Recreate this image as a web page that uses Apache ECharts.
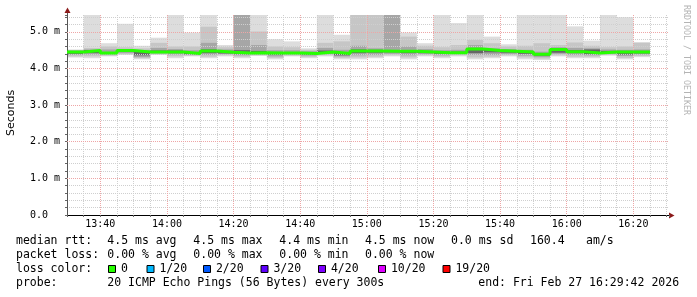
<!DOCTYPE html>
<html><head><meta charset="utf-8">
<script src="https://cdn.jsdelivr.net/npm/echarts@6/dist/echarts.min.js"></script>
<style>html,body{margin:0;padding:0;background:#fff}#c{width:697px;height:297px}</style>
</head><body><div id="c"></div>
<script>
// 5-minute intervals (start times)
const intervalStarts = ['13:30','13:35','13:40','13:45','13:50','13:55','14:00','14:05','14:10','14:15','14:20','14:25','14:30','14:35','14:40','14:45','14:50','14:55','15:00','15:05','15:10','15:15','15:20','15:25','15:30','15:35','15:40','15:45','15:50','15:55','16:00','16:05','16:10','16:15','16:20'];
// sorted ping quantiles (ms), 20 pings per interval
const pingMin = [4.30,4.28,4.33,4.37,4.25,4.37,4.28,4.33,4.28,4.33,4.28,4.34,4.25,4.33,4.28,4.33,4.25,4.25,4.28,4.33,4.25,4.33,4.28,4.33,4.25,4.28,4.33,4.25,4.23,4.33,4.28,4.28,4.35,4.25,4.31];
const ping2   = [4.33,4.33,4.35,4.39,4.28,4.39,4.33,4.35,4.32,4.36,4.32,4.36,4.29,4.35,4.31,4.36,4.29,4.30,4.32,4.36,4.30,4.36,4.32,4.36,4.30,4.32,4.36,4.30,4.27,4.36,4.32,4.32,4.37,4.29,4.34];
const ping4   = [4.37,4.38,4.38,4.42,4.31,4.41,4.38,4.37,4.37,4.39,4.36,4.38,4.33,4.38,4.35,4.39,4.33,4.36,4.37,4.40,4.36,4.39,4.36,4.39,4.37,4.37,4.39,4.35,4.31,4.40,4.37,4.36,4.40,4.34,4.38];
const ping7   = [4.40,4.42,4.40,4.45,4.36,4.43,4.42,4.39,4.42,4.41,4.39,4.40,4.38,4.40,4.38,4.42,4.36,4.42,4.43,4.44,4.42,4.42,4.40,4.41,4.42,4.44,4.43,4.40,4.35,4.43,4.42,4.39,4.42,4.38,4.41];
const median  = [4.45,4.49,4.42,4.49,4.45,4.45,4.45,4.41,4.48,4.44,4.42,4.43,4.42,4.42,4.41,4.45,4.41,4.48,4.48,4.47,4.47,4.45,4.43,4.43,4.53,4.49,4.47,4.45,4.39,4.52,4.46,4.42,4.45,4.45,4.45];
const ping14  = [4.47,4.50,4.45,4.50,4.47,4.49,4.49,4.44,4.52,4.48,4.50,4.48,4.45,4.45,4.43,4.49,4.45,4.52,4.51,4.50,4.50,4.48,4.46,4.46,4.56,4.51,4.49,4.48,4.42,4.54,4.50,4.52,4.48,4.48,4.48];
const ping17  = [4.49,4.52,4.52,4.53,4.50,4.56,4.53,4.50,4.70,4.52,5.60,4.64,4.50,4.50,4.47,4.56,4.51,4.62,4.55,5.60,4.60,4.53,4.50,4.51,4.64,4.55,4.53,4.51,4.46,4.58,4.56,4.55,4.52,4.51,4.52];
const ping19  = [4.50,4.56,4.60,4.58,4.55,4.70,4.60,4.60,5.14,4.58,5.60,5.01,4.60,4.58,4.51,4.70,4.74,5.60,5.60,5.60,4.87,4.62,4.58,4.64,4.78,4.69,4.60,4.62,4.69,4.64,4.71,4.62,4.58,4.60,4.70];
const pingMax = [4.52,5.60,4.69,5.22,4.62,4.84,5.60,4.98,5.60,4.64,5.60,5.60,4.80,4.74,4.55,5.60,4.92,5.60,5.60,5.60,4.98,4.69,5.60,5.24,5.60,4.87,4.66,5.60,5.60,5.60,5.15,4.76,5.60,5.40,4.72];

const xTickLabels = ['13:40','14:00','14:20','14:40','15:00','15:20','15:40','16:00','16:20'];
const yTickLabels = ['0.0  ','1.0 m','2.0 m','3.0 m','4.0 m','5.0 m'];

const statsRtt = ['median rtt:','4.5 ms avg','4.5 ms max','4.4 ms min','4.5 ms now','0.0 ms sd','160.4','am/s'];
const statsLoss = ['packet loss:','0.00 % avg','0.00 % max','0.00 % min','0.00 % now'];
const lossLabels = ['0','1/20','2/20','3/20','4/20','10/20','19/20'];
const lossColors = ['#26ff00','#00b8ff','#0059ff','#5e00ff','#7e00ff','#dd00ff','#ff0000'];
const probeLine = ['probe:','20 ICMP Echo Pings (56 Bytes) every 300s','end: Fri Feb 27 16:29:42 2026'];

const toMin = s => { const [h, m] = s.split(':').map(Number); return h * 60 + m; };
const fmtMin = v => { const h = Math.floor(v / 60), m = Math.round(v % 60); return h + ':' + (m < 10 ? '0' : '') + m; };

const STEP = 5;
const xMin = toMin(intervalStarts[0]);
const xMax = xMin + 180.7;
const yMax = 5.46;
const G = { left: 67, right: 28, top: 15, bottom: 82 };
const plotW = 697 - G.left - G.right;
const majorStart = toMin(xTickLabels[0]);
const grid1Left = G.left + (majorStart - xMin) * plotW / (xMax - xMin);

const smokeData = intervalStarts.map((s, i) => [toMin(s), pingMin[i], ping2[i], ping4[i], ping7[i], median[i], ping14[i], ping17[i], ping19[i], pingMax[i]]);
const medianData = intervalStarts.map((s, i) => [toMin(s), median[i]]);
medianData.push([toMin(intervalStarts[intervalStarts.length - 1]) + STEP, median[median.length - 1]]);

const bands = [[1, 9, '#dddddd'], [2, 8, '#c6c6c6'], [3, 7, '#a6a6a6'], [4, 6, '#666666']];

const mono = 'DejaVu Sans Mono';
const FS = 11.5;
const gfx = [];
function txt(x, y, s, extra) {
  gfx.push(Object.assign({ type: 'text', x: x, y: y, silent: true,
    style: { text: s, fontFamily: mono, fontSize: FS, fill: '#000', verticalAlign: 'middle', align: 'left' } }, extra || {}));
}
const rttX = [16, 107.3, 193.3, 279.3, 365, 451, 530, 586];
statsRtt.forEach((s, i) => txt(rttX[i], 241, s));
statsLoss.forEach((s, i) => txt(rttX[i], 255, s));
txt(16, 269, 'loss color:');
const sqX = [108.5, 147, 203.5, 261, 318.5, 378.5, 443];
lossLabels.forEach((l, i) => {
  gfx.push({ type: 'rect', silent: true, shape: { x: sqX[i], y: 265.5, width: 7, height: 7 }, style: { fill: lossColors[i], stroke: '#000', lineWidth: 1 } });
  txt(sqX[i] + 12.4, 269, l);
});
txt(16, 283.3, probeLine[0]);
txt(107.3, 283.3, probeLine[1]);
txt(478.3, 283.3, probeLine[2]);
// axis title
gfx.push({ type: 'text', x: 11, y: 113, rotation: Math.PI / 2, silent: true,
  style: { text: 'Seconds', fontFamily: 'DejaVu Sans', fontSize: 11, fill: '#000', align: 'center', verticalAlign: 'middle' } });
// watermark
gfx.push({ type: 'text', x: 686.5, y: 60, rotation: -Math.PI / 2, silent: true,
  style: { text: 'RRDTOOL / TOBI OETIKER', fontFamily: mono, fontSize: 8.3, fill: '#b4b4b4', align: 'center', verticalAlign: 'middle' } });
// axis arrows
gfx.push({ type: 'line', silent: true, shape: { x1: 67.5, y1: 15, x2: 67.5, y2: 9 }, style: { stroke: '#555', lineWidth: 1 } });
gfx.push({ type: 'polygon', silent: true, shape: { points: [[64.5, 13], [70.5, 13], [67.5, 7.5]] }, style: { fill: '#8b1a1a' } });
gfx.push({ type: 'line', silent: true, shape: { x1: 669, y1: 215.5, x2: 671, y2: 215.5 }, style: { stroke: '#000', lineWidth: 1 } });
gfx.push({ type: 'polygon', silent: true, shape: { points: [[669, 212.5], [669, 218.5], [674.5, 215.5]] }, style: { fill: '#8b1a1a' } });

const minorCol = '#cfcfcf', majorCol = '#eea6a6';
const chart = echarts.init(document.getElementById('c'), null, { renderer: 'canvas' });
chart.setOption({
  animation: false,
  backgroundColor: '#fff',
  grid: [
    { left: G.left, right: G.right, top: G.top, bottom: G.bottom },
    { left: grid1Left, right: G.right, top: G.top, bottom: G.bottom }
  ],
  xAxis: [
    { type: 'value', gridIndex: 0, min: xMin, max: xMax, interval: STEP, z: 3,
      axisLine: { show: true, onZero: false, lineStyle: { color: '#000', width: 1 } },
      axisTick: { show: true, length: 2, lineStyle: { color: '#666' } },
      axisLabel: { show: false },
      splitLine: { show: true, showMinLine: false, showMaxLine: false, lineStyle: { color: minorCol, type: [1, 1], width: 1 } } },
    { type: 'value', gridIndex: 1, min: majorStart, max: xMax, interval: 20, z: 4,
      axisLine: { show: false }, axisTick: { show: false },
      axisLabel: { show: true, margin: 4, fontFamily: mono, fontSize: 10, color: '#000', showMaxLabel: false,
        formatter: v => { const s = fmtMin(v); return xTickLabels.indexOf(s) >= 0 ? s : ''; } },
      splitLine: { show: true, showMaxLine: false, lineStyle: { color: majorCol, type: [1, 1], width: 1 } } }
  ],
  yAxis: [
    { type: 'value', gridIndex: 0, position: 'left', min: 0, max: yMax, interval: 0.2, z: 3,
      axisLine: { show: true, lineStyle: { color: '#555', width: 1 } },
      axisTick: { show: true, length: 2, lineStyle: { color: '#666' } },
      axisLabel: { show: false },
      splitLine: { show: true, showMinLine: false, showMaxLine: false, lineStyle: { color: minorCol, type: [1, 1], width: 1 } } },
    { type: 'value', gridIndex: 0, position: 'left', min: 0, max: yMax, interval: 1, z: 4,
      axisLine: { show: false }, axisTick: { show: false },
      axisLabel: { show: true, margin: 7, fontFamily: mono, fontSize: 10, color: '#000', showMaxLabel: false,
        formatter: v => { const i = Math.round(v); return Math.abs(v - i) < 1e-6 && yTickLabels[i] ? yTickLabels[i] : ''; } },
      splitLine: { show: true, showMinLine: false, showMaxLine: false, lineStyle: { color: majorCol, type: [1, 1], width: 1 } } },
    { type: 'value', gridIndex: 1, min: 0, max: yMax, show: false }
  ],
  series: [
    { type: 'custom', xAxisIndex: 0, yAxisIndex: 0, z: 1, silent: true,
      encode: { x: 0, y: [1, 9] },
      data: smokeData,
      renderItem: function (params, api) {
        const t0 = api.value(0), t1 = t0 + STEP;
        const cs = params.coordSys;
        const children = [];
        bands.forEach(([lo, hi, color]) => {
          const a = api.coord([t0, api.value(hi)]);
          const b = api.coord([t1, api.value(lo)]);
          const r = echarts.graphic.clipRectByRect(
            { x: a[0], y: a[1], width: b[0] - a[0], height: b[1] - a[1] },
            { x: cs.x, y: cs.y, width: cs.width, height: cs.height });
          if (r) children.push({ type: 'rect', shape: r, style: { fill: color } });
        });
        return { type: 'group', children: children };
      } },
    { type: 'line', xAxisIndex: 0, yAxisIndex: 0, z: 6, silent: true, step: 'end',
      data: medianData, symbol: 'none',
      lineStyle: { color: lossColors[0], width: 3 } }
  ],
  graphic: gfx
});
</script></body></html>
